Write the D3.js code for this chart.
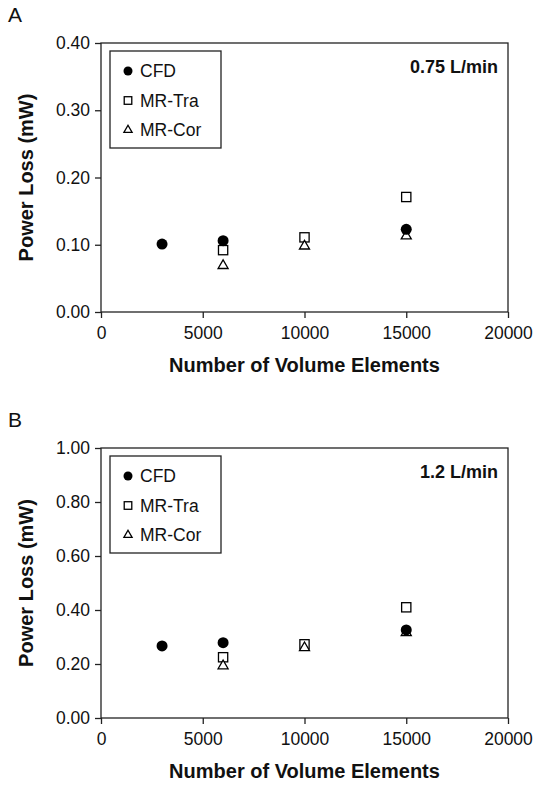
<!DOCTYPE html>
<html>
<head>
<meta charset="utf-8">
<script src="https://cdn.jsdelivr.net/npm/d3@7"></script>
<style>
  body { margin: 0; background: #fff; }
  svg { font-family: "Liberation Sans", Arial, Helvetica, sans-serif; }
</style>
</head>
<body>
<svg id="chart" width="533" height="785"></svg>
<script>
// elements used for each method
const cfdElements = [3000, 6000, 15000]
const mrElements = [6000, 10000, 15000]

// panel A, 0.75 L/min
const cfdA = [0.101, 0.106, 0.123]
const traA = [0.092, 0.111, 0.171]
const corA = [0.069, 0.098, 0.113]

// panel B, 1.2 L/min
const cfdB = [0.267, 0.279, 0.326]
const traB = [0.225, 0.273, 0.410]
const corB = [0.193, 0.260, 0.316]

const xTicks = [0, 5000, 10000, 15000, 20000]
const yTicksA = [0, 0.1, 0.2, 0.3, 0.4]
const yTicksB = [0, 0.2, 0.4, 0.6, 0.8, 1.0]
const legendNames = ['CFD', 'MR-Tra', 'MR-Cor']

const panels = [
  { label: 'A', flow: '0.75 L/min', top: 43, bottom: 312, yMax: 0.4, yTicks: yTicksA,
    series: [cfdA, traA, corA] },
  { label: 'B', flow: '1.2 L/min', top: 448, bottom: 718, yMax: 1.0, yTicks: yTicksB,
    series: [cfdB, traB, corB] }
]

const left = 101, right = 508
const ink = '#222'
const svg = d3.select('#chart')

function marker(g, kind, size) {
  if (kind === 0) {
    g.append('circle').attr('r', size / 2).attr('fill', '#000')
  } else if (kind === 1) {
    g.append('rect')
      .attr('x', -size * 0.42).attr('y', -size * 0.42)
      .attr('width', size * 0.84).attr('height', size * 0.84)
      .attr('fill', '#fff').attr('stroke', '#000').attr('stroke-width', 1.3)
  } else {
    g.append('path')
      .attr('d', d3.symbol(d3.symbolTriangle, size * size * 0.36)())
      .attr('fill', '#fff').attr('stroke', '#000').attr('stroke-width', 1.3)
  }
}

function drawPanel(p) {
  const x = d3.scaleLinear().domain([0, 20000]).range([left, right])
  const y = d3.scaleLinear().domain([0, p.yMax]).range([p.bottom, p.top])
  const g = svg.append('g')

  g.append('text')
    .attr('x', 8).attr('y', p.top - 21)
    .attr('font-size', 21).attr('fill', '#111')
    .text(p.label)

  // frame
  g.append('rect')
    .attr('x', left).attr('y', p.top)
    .attr('width', right - left).attr('height', p.bottom - p.top)
    .attr('fill', 'none').attr('stroke', ink).attr('stroke-width', 1.3)

  const xAxis = g.append('g')
    .attr('transform', `translate(0,${p.bottom})`)
    .call(d3.axisBottom(x).tickValues(xTicks).tickSize(6).tickPadding(9).tickFormat(d3.format('d')))
  const yAxis = g.append('g')
    .attr('transform', `translate(${left},0)`)
    .call(d3.axisLeft(y).tickValues(p.yTicks).tickSize(6).tickPadding(5).tickFormat(d3.format('.2f')))

  for (const ax of [xAxis, yAxis]) {
    ax.select('.domain').remove()
    ax.selectAll('line').attr('stroke', ink).attr('stroke-width', 1.3)
    ax.selectAll('text').attr('font-size', 17.5).attr('fill', '#111')
      .attr('font-family', '"Liberation Sans", Arial, sans-serif')
  }

  g.append('text')
    .attr('x', (left + right) / 2).attr('y', p.bottom + 60)
    .attr('text-anchor', 'middle').attr('font-size', 20).attr('font-weight', 'bold')
    .attr('fill', '#111')
    .text('Number of Volume Elements')

  g.append('text')
    .attr('transform', `translate(33,${(p.top + p.bottom) / 2}) rotate(-90)`)
    .attr('text-anchor', 'middle').attr('font-size', 20).attr('font-weight', 'bold')
    .attr('fill', '#111')
    .text('Power Loss (mW)')

  g.append('text')
    .attr('x', right - 10).attr('y', p.top + 30)
    .attr('text-anchor', 'end').attr('font-size', 18).attr('font-weight', 'bold')
    .attr('fill', '#111')
    .text(p.flow)

  // legend
  const lg = g.append('g').attr('transform', `translate(${left + 9},${p.top + 8})`)
  lg.append('rect')
    .attr('width', 111).attr('height', 97)
    .attr('fill', '#fff').attr('stroke', ink).attr('stroke-width', 1.3)
  legendNames.forEach((name, i) => {
    const row = lg.append('g').attr('transform', `translate(18,${20 + i * 29.5})`)
    marker(row.append('g'), i, 9)
    row.append('text')
      .attr('x', 12).attr('y', 6)
      .attr('font-size', 17.5).attr('fill', '#111')
      .text(name)
  })

  // points: draw MR series first, CFD on top
  const order = [1, 2, 0]
  for (const k of order) {
    const xs = k === 0 ? cfdElements : mrElements
    p.series[k].forEach((v, i) => {
      const mg = g.append('g').attr('transform', `translate(${x(xs[i])},${y(v)})`)
      marker(mg, k, 11)
    })
  }
}

panels.forEach(drawPanel)
</script>
</body>
</html>
